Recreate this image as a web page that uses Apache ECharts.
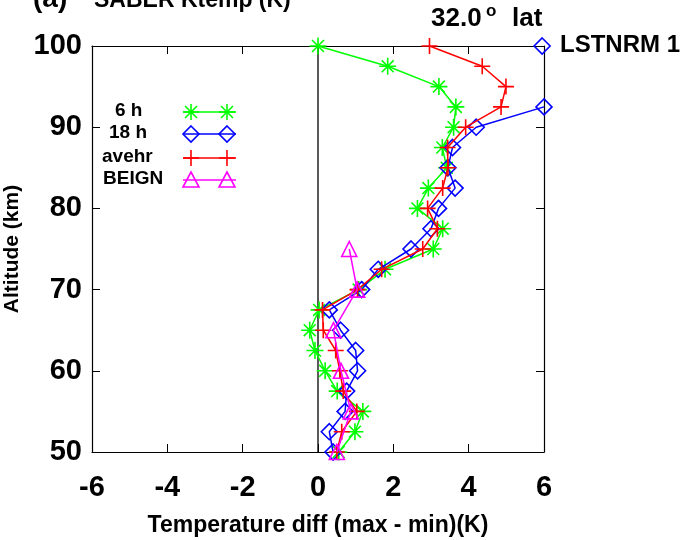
<!DOCTYPE html>
<html><head><meta charset="utf-8">
<script src="https://cdn.jsdelivr.net/npm/echarts@6/dist/echarts.min.js"></script>
<style>html,body{margin:0;padding:0;background:#fff}#c{width:680px;height:540px}</style>
</head><body><div id="c"></div>
<script>
// Altitude levels (km)
const altitudes = [100,97.5,95,92.5,90,87.5,85,82.5,80,77.5,75,72.5,70,67.5,65,62.5,60,57.5,55,52.5,50];
// Temperature diff (max - min) (K)
const h6    = [0.00,1.85,3.21,3.66,3.60,3.30,3.42,2.93,2.64,3.31,3.06,1.78,1.08,0.03,-0.22,-0.08,0.19,0.51,1.19,0.98,0.55];
const h18   = [5.95,null,null,6.00,4.20,3.57,3.45,3.64,3.20,3.00,2.47,1.60,1.16,0.30,0.60,1.00,1.05,0.76,0.72,0.30,0.40];
const avehr = [2.96,4.36,4.99,4.86,3.92,3.44,3.45,3.31,2.91,3.17,2.78,1.69,1.05,0.12,0.14,0.47,0.58,0.67,1.03,0.63,0.50];
const beignAlt = [75,70,65,60,55,50];
const beign    = [0.83,1.04,0.41,0.61,0.87,0.50];
const xTicks = [-6,-4,-2,0,2,4,6];
const yTicks = [50,60,70,80,90,100];
const seriesNames = ['6 h','18 h','avehr','BEIGN'];
const zeroLine = [[0,50],[0,100]];

const FONT = '"Liberation Sans", Arial, Helvetica, sans-serif';
const COLORS = ['#00ff00','#0000ff','#ff0000','#ff00ff'];
const SYM = [
  'path://M0,5L10,5M5,0L5,10M1.5,1.5L8.5,8.5M8.5,1.5L1.5,8.5',
  'path://M5,0L10,5L5,10L0,5Z',
  'path://M0,5L10,5M5,0L5,10',
  'path://M5,0L10,10L0,10Z'
];
const SYMSIZE = [17,16,16,15];

function pairs(xs, ys){ return xs.map((v,i)=>[v, ys[i]]); }
const dataSets = [pairs(h6, altitudes), pairs(h18, altitudes), pairs(avehr, altitudes), pairs(beign, beignAlt)];

const chart = echarts.init(document.getElementById('c'), null, {renderer:'canvas'});

const series = [{
  type:'line', data: zeroLine, symbol:'none', silent:true,
  lineStyle:{color:'#000', width:1.3}, z:1
}];
dataSets.forEach((d,i)=>{
  series.push({
    name: seriesNames[i], type:'line', data:d,
    symbol: SYM[i], symbolSize: SYMSIZE[i], showAllSymbol:true,
    connectNulls:false, clip:true,
    lineStyle:{color:COLORS[i], width:1.5},
    itemStyle:{color:'rgba(0,0,0,0)', borderColor:COLORS[i], borderWidth:1.6},
    z: 2+i
  });
});

// legend drawn as graphics
const legY = [112, 134, 158, 180];
const legTextX = [115, 109, 102, 103];
const graphics = [];
function markerGraphic(i, cx, cy){
  const c = COLORS[i];
  const st = {stroke:c, lineWidth:1.6, fill:'none'};
  if (i===0) return [
    {type:'line', shape:{x1:cx-8,y1:cy,x2:cx+8,y2:cy}, style:st},
    {type:'line', shape:{x1:cx,y1:cy-8,x2:cx,y2:cy+8}, style:st},
    {type:'line', shape:{x1:cx-6,y1:cy-6,x2:cx+6,y2:cy+6}, style:st},
    {type:'line', shape:{x1:cx+6,y1:cy-6,x2:cx-6,y2:cy+6}, style:st}];
  if (i===1) return [{type:'polygon', shape:{points:[[cx,cy-8],[cx+8,cy],[cx,cy+8],[cx-8,cy]]}, style:st}];
  if (i===2) return [
    {type:'line', shape:{x1:cx-8,y1:cy,x2:cx+8,y2:cy}, style:st},
    {type:'line', shape:{x1:cx,y1:cy-8,x2:cx,y2:cy+8}, style:st}];
  return [{type:'polygon', shape:{points:[[cx,cy-8],[cx+8,cy+7],[cx-8,cy+7]]}, style:st}];
}
seriesNames.forEach((n,i)=>{
  graphics.push({type:'text', left:legTextX[i], top:legY[i]-11, style:{text:n, font:'bold 19px '+FONT, fill:'#000'}});
  graphics.push({type:'line', shape:{x1:183,y1:legY[i],x2:236,y2:legY[i]}, style:{stroke:COLORS[i], lineWidth:1.5}});
  markerGraphic(i,191,legY[i]).forEach(g=>graphics.push(g));
  markerGraphic(i,227,legY[i]).forEach(g=>graphics.push(g));
});
// titles
graphics.push({type:'text', left:33, top:-15, style:{text:'(a)', font:'bold 28px '+FONT, fill:'#000'}});
graphics.push({type:'text', left:94, top:-11, style:{text:'SABER Ktemp (K)', font:'bold 23px '+FONT, fill:'#000'}});
graphics.push({type:'text', left:431, top:6, style:{text:'32.0', font:'bold 26px '+FONT, fill:'#000'}});
graphics.push({type:'text', left:486, top:3, style:{text:'o', font:'bold 17px '+FONT, fill:'#000'}});
graphics.push({type:'text', left:512, top:6, style:{text:'lat', font:'bold 26px '+FONT, fill:'#000'}});
graphics.push({type:'text', left:560, top:33, style:{text:'LSTNRM 1', font:'bold 24px '+FONT, fill:'#000'}});

const axisLine = {show:true, onZero:false, lineStyle:{color:'#000', width:1.2}};
const tick = {show:true, inside:true, length:8, lineStyle:{color:'#000', width:1}};
const lbl = {fontFamily:FONT, fontWeight:'bold', fontSize:29, color:'#000'};

chart.setOption({
  animation:false,
  backgroundColor:'#fff',
  grid:{left:92, right:136, top:46, bottom:88, containLabel:false, outerBoundsMode:'none'},
  xAxis:[{
    type:'value', min:xTicks[0], max:xTicks[xTicks.length-1], interval:2, position:'bottom',
    axisLine, axisTick:tick, splitLine:{show:false},
    axisLabel:Object.assign({margin:21}, lbl),
    name:'Temperature diff (max - min)(K)', nameLocation:'middle', nameGap:62,
    nameTextStyle:{fontFamily:FONT, fontWeight:'bold', fontSize:23, color:'#000'}
  },{
    type:'value', min:xTicks[0], max:xTicks[xTicks.length-1], interval:2, position:'top',
    axisLine, axisTick:tick, splitLine:{show:false}, axisLabel:{show:false}
  }],
  yAxis:[{
    type:'value', min:yTicks[0], max:yTicks[yTicks.length-1], interval:10, position:'left',
    axisLine, axisTick:tick, splitLine:{show:false},
    axisLabel:Object.assign({margin:10}, lbl),
    name:'Altitude (km)', nameLocation:'middle', nameGap:67, nameRotate:90,
    nameTextStyle:{fontFamily:FONT, fontWeight:'bold', fontSize:21, color:'#000'}
  },{
    type:'value', min:yTicks[0], max:yTicks[yTicks.length-1], interval:10, position:'right',
    axisLine, axisTick:tick, splitLine:{show:false}, axisLabel:{show:false}
  }],
  series,
  graphic:graphics
});
</script></body></html>
